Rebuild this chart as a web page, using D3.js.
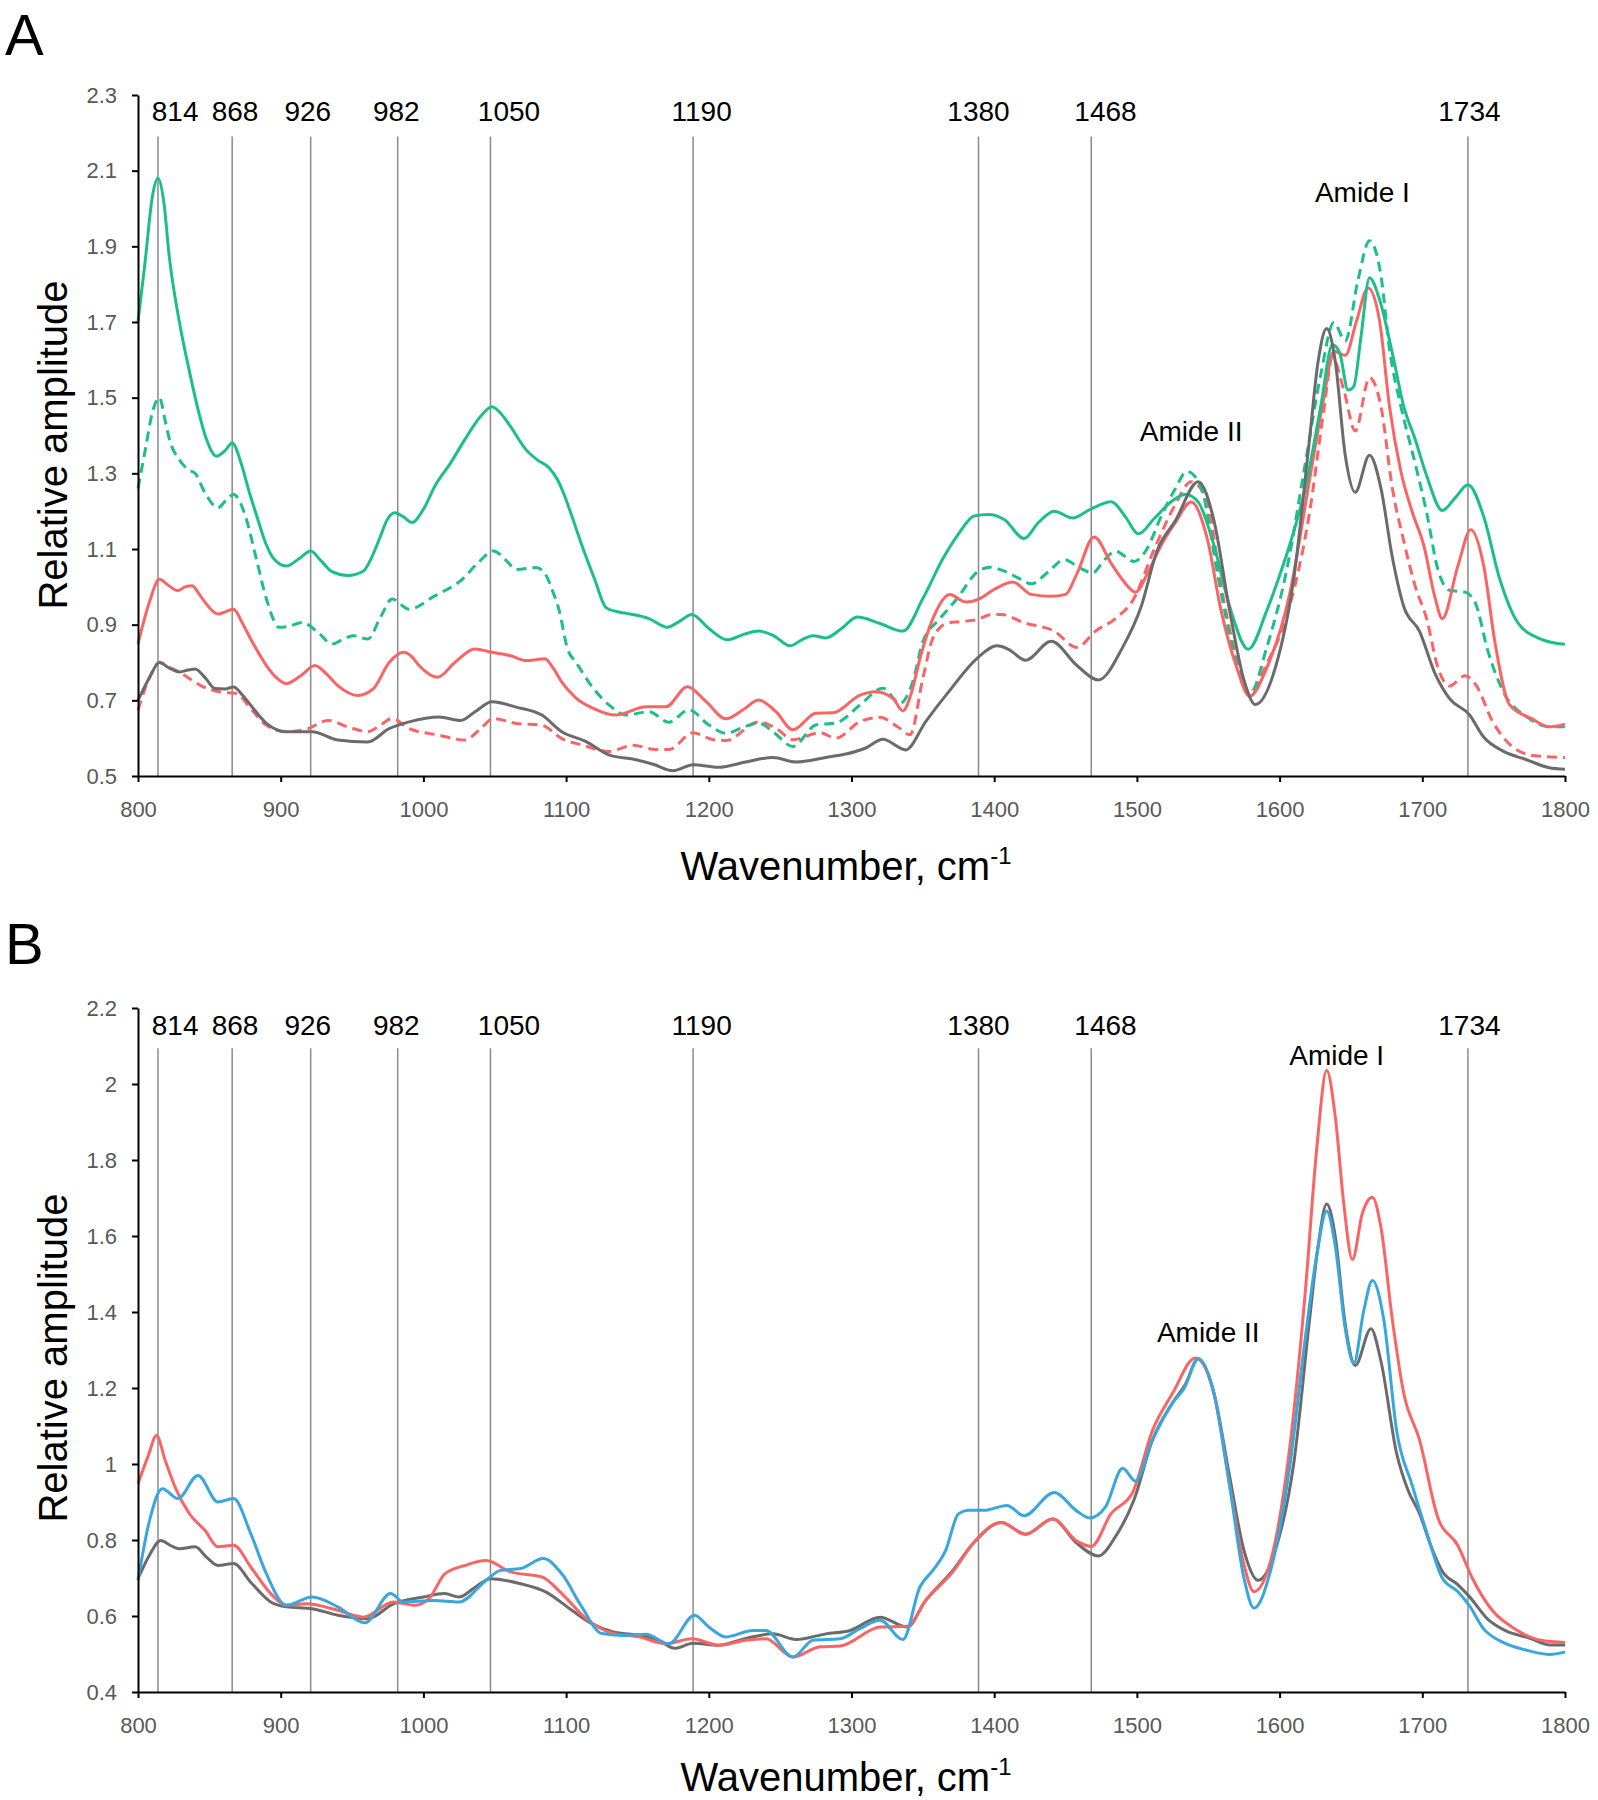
<!DOCTYPE html>
<html>
  <head>
    <meta charset="utf-8">
    <title>Relative amplitude spectra</title>
    <script src="https://d3js.org/d3.v7.min.js"></script>
    <style>
    body { margin: 0; background: #fff; }
    .tick text {
      font-family: "Liberation Sans Narrow", "Arial Narrow", "Liberation Sans", sans-serif;
      font-size: 22px;
      fill: #595959;
    }
    .domain, .tick line { stroke: #000; stroke-width: 2px; }
    .marker-line { stroke: #8a8a8a; stroke-width: 1.5px; }
    .peak-label, .amide-label {
      font-family: "Liberation Sans", Arial, sans-serif;
      font-size: 28px;
      fill: #000;
    }
    .axis-title {
      font-family: "Liberation Sans", Arial, sans-serif;
      font-size: 40px;
      fill: #000;
    }
    .panel-letter {
      font-family: "Liberation Sans", Arial, sans-serif;
      font-size: 58px;
      fill: #000;
    }
    </style>
  </head>
  <body>
    <script>
      // ====================================
      // Data
      // ====================================
      const xTicks = [800, 900, 1000, 1100, 1200, 1300, 1400, 1500, 1600, 1700, 1800];
      const aYTicks = [0.5, 0.7, 0.9, 1.1, 1.3, 1.5, 1.7, 1.9, 2.1, 2.3];
      const bYTicks = [0.4, 0.6, 0.8, 1.0, 1.2, 1.4, 1.6, 1.8, 2.0, 2.2];

      const peakLabels = ["814", "868", "926", "982", "1050", "1190", "1380", "1468", "1734"];
      const peakLabelX = [826, 868, 919, 981, 1060, 1195, 1389, 1478, 1733];
      const peakLineX  = [814, 866, 921, 982, 1047, 1189, 1389, 1468, 1732];

      // panel A
      const aGreen = [[800,1.70],[805,1.86],[810,2.03],[814,2.08],[818,2.02],[822,1.87],[829,1.70],[836,1.57],[842,1.47],[848,1.39],[855,1.345],[861,1.36],[866,1.38],[872,1.33],[878,1.25],[883,1.19],[889,1.12],[895,1.075],[904,1.055],[913,1.075],[921,1.095],[928,1.07],[936,1.04],[947,1.03],[958,1.042],[964,1.08],[969,1.125],[975,1.18],[980,1.196],[986,1.185],[992,1.17],[1000,1.205],[1008,1.266],[1019,1.327],[1029,1.389],[1040,1.45],[1048,1.476],[1055,1.455],[1061,1.424],[1072,1.362],[1080,1.335],[1088,1.315],[1094,1.283],[1099,1.24],[1104,1.187],[1112,1.10],[1120,1.02],[1128,0.945],[1135,0.935],[1142,0.93],[1158,0.916],[1171,0.893],[1180,0.91],[1188,0.927],[1200,0.89],[1213,0.86],[1225,0.875],[1235,0.883],[1245,0.872],[1257,0.844],[1266,0.862],[1273,0.871],[1282,0.865],[1293,0.89],[1304,0.92],[1320,0.903],[1336,0.883],[1350,0.969],[1364,1.074],[1375,1.14],[1386,1.187],[1396,1.191],[1407,1.178],[1421,1.128],[1431,1.17],[1442,1.20],[1455,1.182],[1467,1.204],[1482,1.225],[1492,1.185],[1501,1.14],[1512,1.18],[1524,1.225],[1534,1.245],[1543,1.224],[1554,1.11],[1565,0.948],[1578,0.835],[1591,0.937],[1600,1.03],[1607,1.11],[1618,1.26],[1629,1.48],[1637,1.64],[1642,1.62],[1648,1.52],[1652,1.53],[1657,1.66],[1663,1.817],[1670,1.76],[1679,1.618],[1687,1.477],[1695,1.39],[1703,1.294],[1714,1.202],[1723,1.235],[1732,1.27],[1743,1.186],[1754,1.024],[1767,0.905],[1783,0.862],[1800,0.848]];

      const aGreenDash = [[800,1.26],[805,1.36],[810,1.46],[815,1.50],[819,1.44],[822,1.39],[829,1.336],[835,1.31],[840,1.30],[847,1.248],[856,1.209],[862,1.23],[867,1.244],[872,1.22],[876,1.178],[883,1.073],[890,0.968],[899,0.893],[907,0.897],[915,0.906],[926,0.88],[936,0.849],[944,0.862],[951,0.871],[961,0.862],[970,0.92],[978,0.968],[990,0.941],[1008,0.976],[1026,1.016],[1040,1.07],[1049,1.095],[1058,1.07],[1065,1.046],[1079,1.051],[1086,1.03],[1090,0.994],[1095,0.94],[1101,0.836],[1107,0.80],[1119,0.732],[1130,0.688],[1142,0.661],[1158,0.67],[1172,0.642],[1186,0.675],[1200,0.635],[1212,0.613],[1225,0.63],[1235,0.64],[1245,0.617],[1259,0.578],[1275,0.635],[1289,0.64],[1306,0.688],[1322,0.732],[1334,0.692],[1343,0.75],[1350,0.855],[1362,0.916],[1374,0.969],[1388,1.039],[1397,1.052],[1408,1.04],[1418,1.021],[1426,1.008],[1438,1.04],[1449,1.072],[1460,1.05],[1469,1.037],[1477,1.07],[1485,1.094],[1498,1.067],[1507,1.10],[1517,1.186],[1527,1.26],[1535,1.305],[1541,1.29],[1546,1.25],[1557,1.024],[1567,0.84],[1579,0.716],[1591,0.84],[1605,1.045],[1618,1.326],[1629,1.564],[1638,1.699],[1646,1.65],[1655,1.812],[1663,1.915],[1671,1.823],[1677,1.629],[1685,1.477],[1695,1.326],[1703,1.197],[1711,1.045],[1719,0.991],[1730,0.986],[1737,0.959],[1746,0.83],[1757,0.721],[1773,0.657],[1789,0.63],[1800,0.63]];

      const aRed = [[800,0.849],[808,0.96],[815,1.02],[821,1.005],[828,0.99],[833,1.0],[838,1.003],[843,0.98],[847,0.959],[856,0.928],[862,0.935],[867,0.941],[873,0.905],[879,0.862],[890,0.792],[897,0.76],[904,0.744],[914,0.765],[924,0.792],[932,0.77],[940,0.739],[954,0.713],[965,0.731],[976,0.80],[986,0.827],[992,0.815],[997,0.792],[1010,0.761],[1022,0.80],[1036,0.836],[1048,0.827],[1061,0.818],[1072,0.805],[1085,0.81],[1091,0.785],[1097,0.748],[1107,0.706],[1119,0.679],[1135,0.661],[1156,0.683],[1170,0.683],[1185,0.736],[1198,0.697],[1212,0.651],[1224,0.675],[1235,0.701],[1247,0.67],[1259,0.622],[1275,0.666],[1287,0.667],[1306,0.714],[1317,0.723],[1329,0.705],[1336,0.672],[1342,0.72],[1348,0.811],[1357,0.916],[1369,0.98],[1380,0.96],[1390,0.969],[1399,0.991],[1413,1.013],[1426,0.98],[1440,0.975],[1450,0.98],[1458,1.035],[1470,1.132],[1482,1.062],[1490,1.018],[1499,0.986],[1508,1.04],[1517,1.11],[1527,1.17],[1538,1.224],[1549,1.132],[1559,0.937],[1570,0.786],[1579,0.711],[1591,0.786],[1607,0.98],[1621,1.283],[1631,1.499],[1638,1.623],[1646,1.612],[1654,1.704],[1662,1.79],[1670,1.704],[1677,1.477],[1685,1.305],[1693,1.197],[1701,1.11],[1709,0.97],[1714,0.916],[1725,1.056],[1734,1.151],[1743,1.056],[1751,0.851],[1761,0.689],[1777,0.651],[1789,0.63],[1800,0.637]];

      const aRedDash = [[800,0.674],[808,0.76],[815,0.80],[822,0.787],[829,0.775],[837,0.755],[844,0.739],[858,0.722],[869,0.718],[879,0.678],[890,0.634],[904,0.617],[919,0.625],[933,0.647],[947,0.63],[961,0.617],[970,0.635],[978,0.652],[990,0.625],[1011,0.608],[1029,0.595],[1040,0.625],[1049,0.652],[1065,0.639],[1083,0.634],[1097,0.599],[1111,0.582],[1130,0.565],[1147,0.581],[1163,0.57],[1172,0.57],[1189,0.614],[1203,0.596],[1212,0.594],[1235,0.643],[1247,0.626],[1259,0.596],[1278,0.614],[1289,0.60],[1306,0.644],[1320,0.655],[1332,0.631],[1341,0.609],[1350,0.758],[1357,0.864],[1367,0.904],[1376,0.908],[1388,0.913],[1397,0.926],[1405,0.927],[1421,0.905],[1442,0.883],[1458,0.84],[1471,0.883],[1485,0.916],[1498,0.97],[1511,1.089],[1527,1.218],[1538,1.278],[1549,1.229],[1559,1.002],[1570,0.808],[1578,0.716],[1591,0.797],[1607,0.948],[1621,1.197],[1631,1.467],[1637,1.607],[1645,1.52],[1653,1.412],[1663,1.553],[1671,1.477],[1679,1.261],[1687,1.121],[1695,1.002],[1703,0.916],[1711,0.786],[1719,0.738],[1730,0.765],[1738,0.738],[1749,0.646],[1762,0.581],[1778,0.554],[1800,0.549]];

      const aGray = [[800,0.70],[808,0.76],[815,0.80],[822,0.785],[829,0.775],[835,0.78],[840,0.783],[847,0.76],[854,0.731],[861,0.73],[867,0.735],[873,0.715],[879,0.687],[890,0.639],[904,0.617],[922,0.617],[940,0.595],[961,0.59],[976,0.625],[990,0.643],[1011,0.656],[1026,0.647],[1037,0.672],[1048,0.696],[1065,0.682],[1083,0.661],[1097,0.617],[1114,0.591],[1130,0.556],[1149,0.543],[1161,0.531],[1175,0.514],[1189,0.53],[1207,0.523],[1226,0.537],[1245,0.549],[1261,0.537],[1282,0.549],[1296,0.558],[1310,0.574],[1322,0.597],[1338,0.569],[1352,0.644],[1369,0.727],[1388,0.811],[1402,0.844],[1410,0.835],[1422,0.806],[1440,0.856],[1458,0.792],[1473,0.754],[1490,0.84],[1503,0.948],[1514,1.094],[1527,1.175],[1543,1.278],[1554,1.175],[1565,0.937],[1575,0.754],[1583,0.689],[1597,0.786],[1610,1.024],[1621,1.391],[1627,1.596],[1633,1.683],[1639,1.596],[1646,1.348],[1653,1.25],[1663,1.348],[1671,1.261],[1679,1.078],[1687,0.948],[1698,0.883],[1709,0.77],[1719,0.705],[1733,0.662],[1743,0.603],[1757,0.565],[1773,0.543],[1789,0.522],[1800,0.518]];

      // panel B
      const bGray = [[800,0.698],[808,0.76],[816,0.799],[823,0.785],[829,0.777],[840,0.782],[848,0.755],[856,0.733],[867,0.738],[879,0.689],[893,0.637],[904,0.624],[922,0.619],[940,0.602],[961,0.593],[979,0.632],[1000,0.65],[1015,0.659],[1025,0.65],[1036,0.675],[1047,0.698],[1068,0.685],[1086,0.663],[1104,0.615],[1118,0.58],[1133,0.558],[1151,0.549],[1165,0.536],[1176,0.515],[1189,0.528],[1207,0.523],[1226,0.541],[1245,0.553],[1261,0.538],[1282,0.553],[1299,0.562],[1320,0.597],[1339,0.571],[1352,0.641],[1371,0.72],[1385,0.79],[1405,0.846],[1422,0.815],[1441,0.855],[1458,0.791],[1473,0.758],[1485,0.809],[1498,0.906],[1511,1.064],[1525,1.161],[1534,1.21],[1543,1.277],[1554,1.186],[1565,0.967],[1575,0.773],[1585,0.694],[1597,0.773],[1610,1.004],[1621,1.38],[1627,1.574],[1633,1.684],[1639,1.599],[1646,1.368],[1653,1.259],[1664,1.356],[1671,1.271],[1682,1.028],[1690,0.931],[1698,0.87],[1706,0.785],[1714,0.718],[1725,0.682],[1733,0.651],[1746,0.591],[1759,0.56],[1775,0.542],[1789,0.524],[1800,0.524]];

      const bRed = [[800,0.948],[807,1.02],[813,1.075],[819,1.01],[826,0.939],[836,0.869],[847,0.825],[856,0.782],[867,0.786],[879,0.729],[893,0.659],[904,0.628],[918,0.632],[940,0.615],[958,0.597],[979,0.637],[994,0.628],[1004,0.646],[1015,0.711],[1029,0.733],[1044,0.746],[1061,0.716],[1083,0.703],[1097,0.659],[1114,0.593],[1133,0.554],[1151,0.545],[1170,0.527],[1188,0.54],[1207,0.523],[1226,0.536],[1240,0.54],[1259,0.492],[1278,0.519],[1292,0.521],[1320,0.571],[1339,0.573],[1352,0.641],[1371,0.716],[1385,0.79],[1405,0.846],[1422,0.815],[1441,0.855],[1458,0.797],[1468,0.783],[1482,0.87],[1497,0.925],[1511,1.089],[1525,1.186],[1541,1.279],[1554,1.186],[1565,0.943],[1575,0.736],[1582,0.664],[1594,0.749],[1607,1.04],[1618,1.453],[1626,1.829],[1633,2.036],[1639,1.914],[1645,1.684],[1651,1.538],[1658,1.66],[1665,1.702],[1671,1.623],[1679,1.38],[1687,1.186],[1698,1.064],[1711,0.858],[1725,0.785],[1735,0.70],[1749,0.615],[1765,0.566],[1783,0.536],[1800,0.53]];

      const bBlue = [[800,0.694],[808,0.85],[817,0.935],[828,0.909],[842,0.97],[856,0.90],[867,0.909],[879,0.817],[890,0.711],[904,0.628],[922,0.65],[940,0.624],[959,0.582],[977,0.659],[986,0.637],[1007,0.641],[1025,0.637],[1044,0.694],[1054,0.72],[1068,0.725],[1084,0.751],[1097,0.711],[1111,0.624],[1125,0.554],[1142,0.549],[1156,0.552],[1172,0.527],[1190,0.602],[1200,0.571],[1212,0.545],[1231,0.562],[1240,0.562],[1259,0.492],[1273,0.536],[1292,0.54],[1306,0.567],[1320,0.589],[1336,0.538],[1348,0.677],[1357,0.72],[1366,0.773],[1375,0.869],[1382,0.878],[1393,0.878],[1409,0.891],[1421,0.864],[1442,0.925],[1458,0.876],[1467,0.858],[1478,0.887],[1490,0.989],[1499,0.955],[1511,1.064],[1525,1.161],[1533,1.198],[1543,1.277],[1554,1.186],[1565,0.943],[1575,0.70],[1582,0.621],[1594,0.724],[1607,0.991],[1618,1.331],[1626,1.55],[1633,1.665],[1639,1.574],[1646,1.356],[1652,1.265],[1659,1.404],[1665,1.483],[1673,1.38],[1682,1.088],[1693,0.943],[1703,0.821],[1714,0.70],[1725,0.664],[1733,0.627],[1743,0.566],[1757,0.53],[1772,0.511],[1789,0.499],[1800,0.505]];

      // ====================================
      // Drawing
      // ====================================
      const width = 1598;
      const height = 1800;
      const GREEN = "#1cbf8a", RED = "#fa6464", GRAY = "#6b6b6b", BLUE = "#39a6dc";

      const svg = d3.select("body")
        .append("svg")
          .attr("width", width)
          .attr("height", height);

      const xScale = d3.scaleLinear()
          .domain([800, 1800])
          .range([138, 1565]);

      const fmt = d => String(+d.toFixed(1));

      function drawPanel(p) {
        const yScale = d3.scaleLinear()
            .domain(p.yDomain)
            .range([p.bottom, p.top]);

        const g = svg.append("g");

        // panel letter
        g.append("text")
            .attr("class", "panel-letter")
            .attr("x", 5)
            .attr("y", p.letterY)
            .text(p.letter);

        // vertical marker lines
        g.selectAll("line.marker-line")
          .data(peakLineX)
          .enter().append("line")
            .classed("marker-line", true)
            .attr("x1", d => xScale(d))
            .attr("x2", d => xScale(d))
            .attr("y1", yScale(p.lineTop))
            .attr("y2", p.bottom);

        g.selectAll("text.peak-label")
          .data(peakLabels)
          .enter().append("text")
            .classed("peak-label", true)
            .attr("text-anchor", "middle")
            .attr("x", (d, i) => xScale(peakLabelX[i]))
            .attr("y", yScale(p.labelY))
            .text(d => d);

        // series
        const line = d3.line()
            .x(d => xScale(d[0]))
            .y(d => yScale(d[1]))
            .curve(d3.curveMonotoneX);

        p.series.forEach(s => {
          g.append("path")
              .datum(s.data)
              .attr("fill", "none")
              .attr("stroke", s.color)
              .attr("stroke-width", 3)
              .attr("stroke-linejoin", "round")
              .attr("stroke-dasharray", s.dash ? "10,6" : null)
              .attr("d", line);
        });

        // amide annotations
        p.amides.forEach(a => {
          g.append("text")
              .classed("amide-label", true)
              .attr("text-anchor", "middle")
              .attr("x", xScale(a.x))
              .attr("y", yScale(a.y))
              .text(a.text);
        });

        // axes
        g.append("g")
            .attr("transform", "translate(0," + p.bottom + ")")
            .call(d3.axisBottom(xScale).tickValues(xTicks).tickSize(6).tickPadding(19).tickSizeOuter(0).tickFormat(d3.format("d")));

        g.append("g")
            .attr("transform", "translate(138,0)")
            .call(d3.axisLeft(yScale).tickValues(p.yTicks).tickSize(6).tickPadding(15).tickSizeOuter(0).tickFormat(fmt));

        // axis titles
        g.append("text")
            .attr("class", "axis-title")
            .attr("text-anchor", "middle")
            .attr("transform", "translate(67," + p.yTitleY + ") rotate(-90)")
            .text("Relative amplitude");

        const xt = g.append("text")
            .attr("class", "axis-title")
            .attr("text-anchor", "middle")
            .attr("x", 846)
            .attr("y", p.xTitleY);
        xt.append("tspan").text("Wavenumber, cm");
        xt.append("tspan")
            .attr("font-size", 24)
            .attr("dy", -16)
            .text("-1");
      }

      drawPanel({
        letter: "A", letterY: 55,
        top: 95, bottom: 776, yDomain: [0.5, 2.3], yTicks: aYTicks,
        lineTop: 2.19, labelY: 2.23,
        yTitleY: 445, xTitleY: 880,
        series: [
          { data: aRedDash, color: RED, dash: true },
          { data: aGreenDash, color: GREEN, dash: true },
          { data: aRed, color: RED },
          { data: aGreen, color: GREEN },
          { data: aGray, color: GRAY }
        ],
        amides: [
          { text: "Amide I", x: 1658, y: 2.018 },
          { text: "Amide II", x: 1538, y: 1.385 }
        ]
      });

      drawPanel({
        letter: "B", letterY: 964,
        top: 1008, bottom: 1692, yDomain: [0.4, 2.2], yTicks: bYTicks,
        lineTop: 2.094, labelY: 2.128,
        yTitleY: 1358, xTitleY: 1791,
        series: [
          { data: bGray, color: GRAY },
          { data: bRed, color: RED },
          { data: bBlue, color: BLUE }
        ],
        amides: [
          { text: "Amide I", x: 1640, y: 2.049 },
          { text: "Amide II", x: 1550, y: 1.32 }
        ]
      });
    </script>
  </body>
</html>
